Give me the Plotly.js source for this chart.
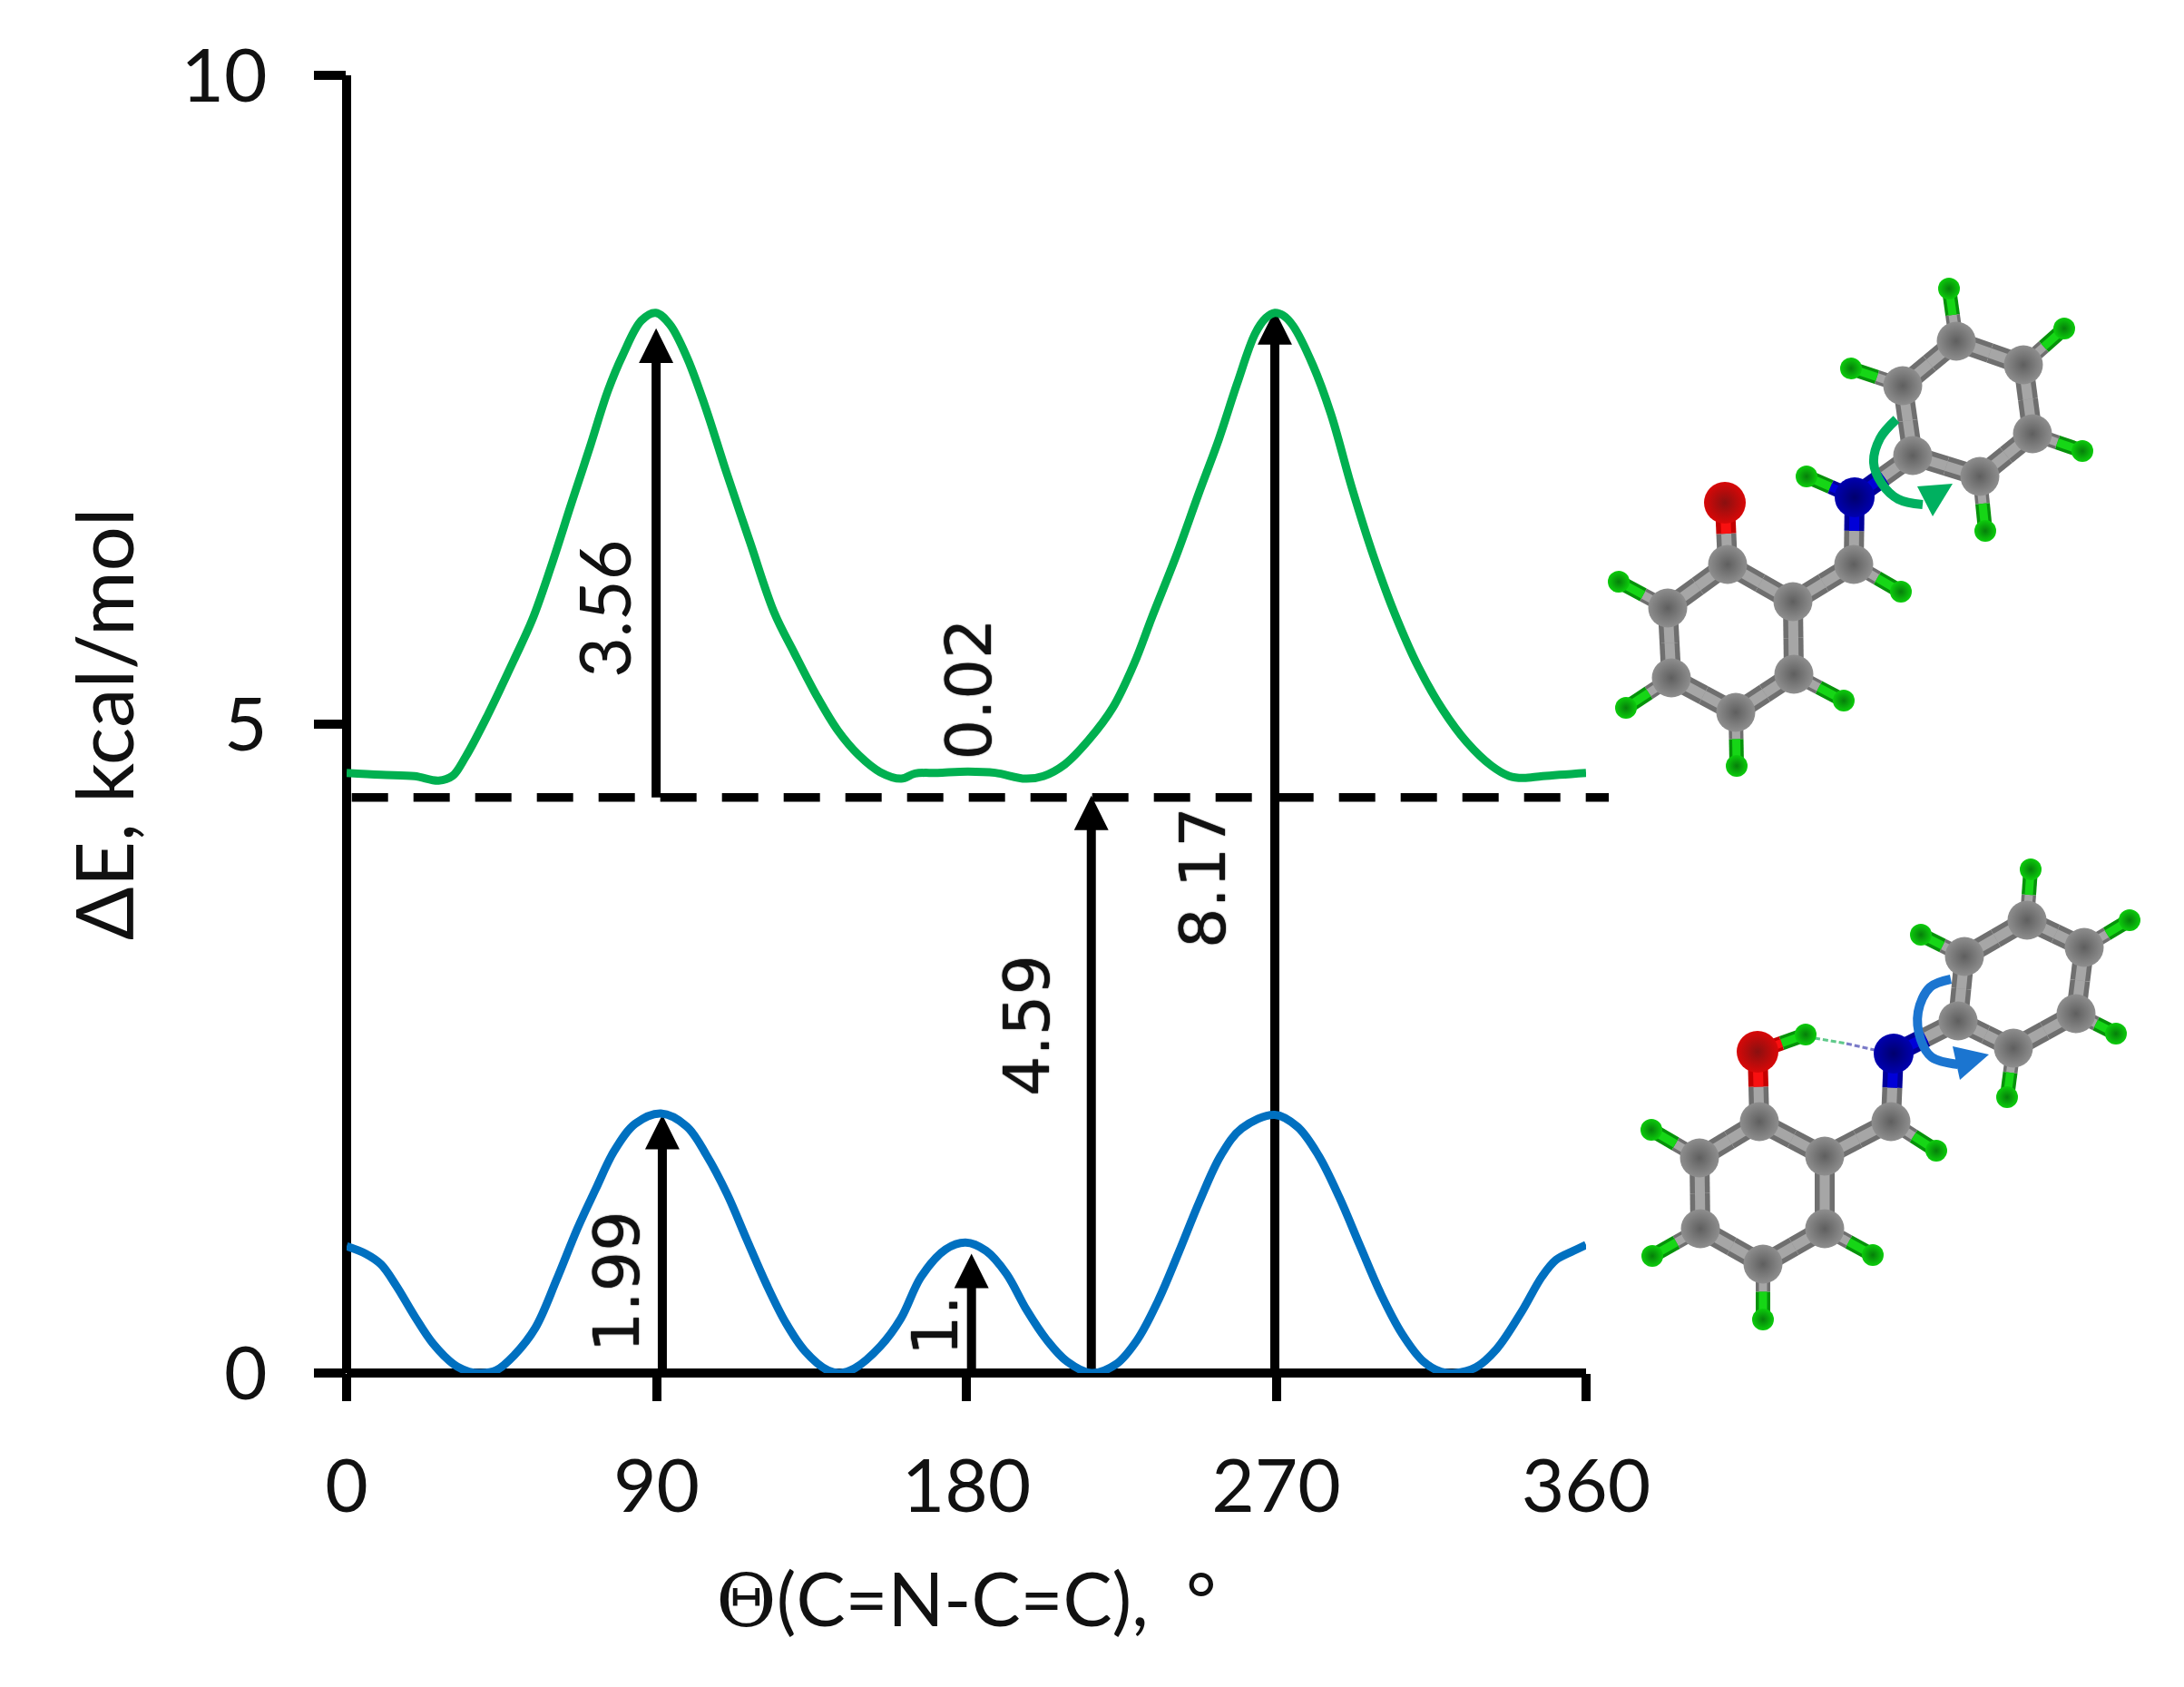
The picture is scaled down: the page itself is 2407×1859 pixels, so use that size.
<!DOCTYPE html>
<html><head><meta charset="utf-8">
<script src="https://cdn.plot.ly/plotly-3.0.1.min.js"></script>
<style>html,body{margin:0;padding:0;background:#fff}#chart{width:2407px;height:1859px}</style>
</head><body><div id="chart"></div>
<script>
// ---------- chart data (angle in degrees, energy in kcal/mol) ----------
const greenAngle = [0,10,19.7,26.7,30.7,34.6,40.8,48.7,54,59.2,65.4,70.6,75.9,80.3,85.6,89.8,93.9,98.8,104,110.2,117.2,124.2,130,136.5,142.7,148.8,155,161.1,165.1,171.7,180.5,188.4,197.2,202.4,208.6,215.6,222.6,228.8,234,241,247.4,253.4,258.6,263.9,267,269.6,272,274.9,280.6,285.9,292,298.2,304.3,311.3,318.4,325.4,332.5,337.7,341.7,347.4,360];
const greenEnergy = [4.625,4.61,4.6,4.565,4.6,4.75,5.06,5.5,5.81,6.2,6.71,7.13,7.57,7.85,8.11,8.17,8.08,7.83,7.46,6.95,6.4,5.86,5.55,5.22,4.95,4.76,4.63,4.58,4.62,4.625,4.635,4.625,4.58,4.6,4.69,4.88,5.13,5.47,5.83,6.3,6.77,7.2,7.62,8.01,8.13,8.17,8.15,8.07,7.77,7.39,6.82,6.3,5.86,5.44,5.11,4.86,4.68,4.6,4.585,4.6,4.625];
const blueAngle = [0,5.6,10,14.4,19.7,25,31.1,35.5,39,43.4,48.7,54.8,61,67.1,72.4,77.7,83.8,91.3,98.8,104.5,110.5,116.2,122,127.5,133.1,139.8,143.3,147.5,155.1,161,166.9,174,179.8,185.7,191.6,197.5,203.4,209.2,216.3,223.5,229.6,235.7,241.7,247.8,253.9,260,269.6,276.2,282.3,288.4,294.4,300.5,306.6,312.7,317.8,321.9,328,334,341.1,347.2,351.3,356.4,360];
const blueEnergy = [0.977,0.918,0.837,0.673,0.44,0.23,0.068,0.01,0,0.02,0.138,0.347,0.72,1.117,1.42,1.71,1.92,2,1.9,1.68,1.38,1.03,0.68,0.39,0.17,0.02,0,0.035,0.208,0.42,0.743,0.953,1.005,0.942,0.767,0.487,0.254,0.09,0,0.068,0.254,0.557,0.93,1.327,1.676,1.886,1.99,1.897,1.676,1.35,0.977,0.604,0.3,0.09,0.01,0,0.044,0.184,0.464,0.743,0.872,0.942,0.988];
const dashAngle = [1.5,366.6];
const dashEnergy = [4.436,4.436];
const arrowAngle = [89.9,91.7,181.5,216.3,269.6];
const arrowStart = [4.436,0,0,0,0];
const arrowTip = [8.05,1.99,0.92,4.45,8.19];
const labelText = ['3.56','1.99','1.','0.02','4.59','8.17'];
const labelAngle = [74.6,78.6,171,180.8,197.7,248.6];
const labelEnergy = [5.89,0.707,0.37,5.27,2.68,3.82];
const labelFont = ['Lato','DejaVu Sans','DejaVu Sans','DejaVu Sans','DejaVu Sans','DejaVu Sans'];
const xTicks = [0,90,180,270,360];
const yTicks = [0,5,10];
const xTitle = '<span style="font-family:\'DejaVu Serif\'">Θ</span>(C=N-C=C),  °';
const yTitle = 'ΔE, kcal/mol';

// ---------- molecule sketches, read as positions in page pixels ----------
// atom order: ring A C1..C6, C7, N, O, ring B C8..C13, then hydrogens
const mol1X = [1904,1976,1977,1913,1842,1838,2043,2044,1901,2108,2097,2156,2230,2240,2182,1784,1792,1914,2032,2095,1991,2040,2148,2275,2295,2188];
const mol1Y = [622,663,743,785,747,670,622,548,554,502,425,376,402,478,525,641,780,844,772,652,525,406,318,362,497,585];
const mol2X = [1939,2011,2011,1943,1874,1873,2084,2087,1937,2158,2165,2234,2297,2288,2219,1820,1821,1943,2064,2134,1990,2117,2238,2347,2332,2212];
const mol2Y = [1236,1274,1354,1393,1354,1276,1236,1161,1159,1125,1054,1014,1044,1117,1155,1245,1384,1454,1383,1268,1140,1030,958,1014,1139,1209];
const molKinds = ['C','C','C','C','C','C','C','N','O','C','C','C','C','C','C','H','H','H','H','H','H','H','H','H','H','H'];
const molBonds = [[0,1],[1,2],[2,3],[3,4],[4,5],[5,0],[1,6],[6,7],[0,8],[7,9],[9,10],[10,11],[11,12],[12,13],[13,14],[14,9],[5,15],[4,16],[3,17],[2,18],[6,19],[7,20],[10,21],[11,22],[12,23],[13,24],[14,25]];
const hBondGreenX = [2000,2035], hBondGreenY = [1144,1150];
const hBondBlueX = [2035,2066], hBondBlueY = [1150,1157];
const arcGreenX = [2090,2072,2065,2074,2092,2119];
const arcGreenY = [462,483,510,533,550,556];
const headGreenX = [2152,2113,2130,2152];
const headGreenY = [533,536,569,533];
const arcBlueX = [2150,2127,2114,2117,2129,2158];
const arcBlueY = [1079,1088,1115,1146,1165,1173];
const headBlueX = [2192,2152,2160,2192];
const headBlueY = [1162,1153,1190,1162];

const GREEN='#00B050', BLUE='#0070C0', ACCENT_GREEN='#00B060', ACCENT_BLUE='#1B75D0';
const traces = [];
const cfg = {mode:'lines', hoverinfo:'skip', showlegend:false, cliponaxis:false};

// dashed reference line (same scale as the main axes, wider domain so it runs past 360)
traces.push({...cfg, xaxis:'x3', yaxis:'y3', x:dashAngle, y:dashEnergy, line:{color:'#000',width:9.5,dash:'40px,28px'}});

// arrows: shaft + triangular head in data units
const headHalf = 5.0, headLen = 0.266;
arrowAngle.forEach((a,i)=>{
  traces.push({...cfg, x:[a,a], y:[arrowStart[i],arrowTip[i]-headLen+0.02], line:{color:'#000',width:10}});
  traces.push({...cfg, x:[a-headHalf,a,a+headHalf,a-headHalf],
    y:[arrowTip[i]-headLen,arrowTip[i],arrowTip[i]-headLen,arrowTip[i]-headLen],
    fill:'toself', fillcolor:'#000', line:{color:'#000',width:0}});
});

// energy curves
traces.push({...cfg, name:'open', x:greenAngle, y:greenEnergy, line:{color:GREEN,width:9,shape:'spline',smoothing:1}});
traces.push({...cfg, name:'H-bonded', x:blueAngle, y:blueEnergy, line:{color:BLUE,width:9,shape:'spline',smoothing:1}});

// molecules on a page-wide overlay axis pair
const bondCol = {C:['#6f6f6f','#a6a6a6'],H:['#06920a','#16d616'],N:['#00009a','#0000d8'],O:['#c40000','#f81010']};
const atomCol = {C:['#8e8e8e','#5f5f5f'],H:['#0ccc0c','#067f0a'],N:['#0000b0','#00006e'],O:['#d80808','#8a1010']};
const atomSize = {C:43,H:24,N:44,O:46};
const ov = {xaxis:'x2',yaxis:'y2'};
function drawMol(X,Y,kinds,bonds){
  const bucket = {};
  bonds.forEach(([a,b])=>{
    const w = (kinds[a]==='H'||kinds[b]==='H') ? 'thin':'thick';
    const mx=(X[a]+X[b])/2, my=(Y[a]+Y[b])/2;
    [[a,kinds[a]],[b,kinds[b]]].forEach(([n,k])=>{
      const key=k+'|'+w; (bucket[key]=bucket[key]||{x:[],y:[]});
      bucket[key].x.push(X[n],mx,null); bucket[key].y.push(Y[n],my,null);
    });
  });
  Object.entries(bucket).forEach(([key,s])=>{
    const [k,w]=key.split('|'); const W = w==='thick'?[22,11]:[16,9];
    traces.push({...cfg,...ov,x:s.x,y:s.y,line:{color:bondCol[k][0],width:W[0]}});
    traces.push({...cfg,...ov,x:s.x,y:s.y,line:{color:bondCol[k][1],width:W[1]}});
  });
  ['C','N','O','H'].forEach(k=>{
    const idx = kinds.map((q,i)=>q===k?i:-1).filter(i=>i>=0);
    traces.push({...ov,mode:'markers',hoverinfo:'skip',showlegend:false,cliponaxis:false,
      x:idx.map(i=>X[i]),y:idx.map(i=>Y[i]),
      marker:{size:atomSize[k],color:atomCol[k][0],line:{width:0},gradient:{type:'radial',color:atomCol[k][1]}}});
  });
}
drawMol(mol1X,mol1Y,molKinds,molBonds);
// second molecule: the hydrogen on N moves to the oxygen (enol form)
const m2Bonds = molBonds.map(b=>b[1]===20?[8,20]:b);
traces.push({...cfg,...ov,x:hBondGreenX,y:hBondGreenY,line:{color:'#5fc98a',width:3,dash:'6px,3px'}});
traces.push({...cfg,...ov,x:hBondBlueX,y:hBondBlueY,line:{color:'#7a7ac8',width:3,dash:'6px,3px'}});
drawMol(mol2X,mol2Y,molKinds,m2Bonds);

// rotation arrows
traces.push({...cfg,...ov,x:arcGreenX,y:arcGreenY,line:{color:ACCENT_GREEN,width:10,shape:'spline'}});
traces.push({...cfg,...ov,x:headGreenX,y:headGreenY,fill:'toself',fillcolor:ACCENT_GREEN,line:{color:ACCENT_GREEN,width:0}});
traces.push({...cfg,...ov,x:arcBlueX,y:arcBlueY,line:{color:ACCENT_BLUE,width:10,shape:'spline'}});
traces.push({...cfg,...ov,x:headBlueX,y:headBlueY,fill:'toself',fillcolor:ACCENT_BLUE,line:{color:ACCENT_BLUE,width:0}});

const W=2407,H=1859;
const plotYDomain=[1-1513/H,1-83/H];
const layout = {
  width:W,height:H,showlegend:false,
  paper_bgcolor:'#fff',plot_bgcolor:'rgba(0,0,0,0)',
  margin:{l:0,r:0,t:0,b:0,pad:0},
  font:{family:'Lato',color:'#111'},
  xaxis:{domain:[382/W,1748/W],range:[0,360],anchor:'y',tickmode:'array',tickvals:xTicks,ticktext:xTicks.map(String),
    ticks:'outside',ticklen:30,tickwidth:10,tickcolor:'#000',showgrid:false,showline:false,
    zeroline:true,zerolinecolor:'#000',zerolinewidth:10,ticklabelstandoff:24,
    tickfont:{family:'Lato',size:82,color:'#111'},
    title:{text:xTitle,font:{family:'Lato',size:81,color:'#111'},standoff:52},automargin:false},
  yaxis:{domain:plotYDomain,range:[0,10],anchor:'x',tickmode:'array',tickvals:yTicks,ticktext:yTicks.map(String),
    ticks:'outside',ticklen:35,tickwidth:10,tickcolor:'#000',showgrid:false,showline:false,
    zeroline:true,zerolinecolor:'#000',zerolinewidth:10,ticklabelstandoff:35,
    tickfont:{family:'Lato',size:82,color:'#111'},
    title:{text:yTitle,font:{family:'Lato',size:87,color:'#111'},standoff:23},automargin:false},
  xaxis2:{domain:[0,1],range:[0,W],anchor:'y2',visible:false,fixedrange:true},
  yaxis2:{domain:[0,1],range:[H,0],anchor:'x2',visible:false,fixedrange:true},
  xaxis3:{domain:[382/W,1775/W],range:[0,(1775-382)/(1366/360)],anchor:'y3',visible:false,fixedrange:true},
  yaxis3:{domain:plotYDomain,range:[0,10],anchor:'x3',visible:false,fixedrange:true},
  annotations:labelText.map((t,i)=>({xref:'x',yref:'y',x:labelAngle[i],y:labelEnergy[i],text:t,textangle:-90,
    showarrow:false,xanchor:'center',yanchor:'middle',
    font:labelFont[i]==='Lato'?{family:'Lato',size:77,color:'#111'}
      :{family:labelFont[i],size:70,color:'#111',shadow:'0 0 1.5px #000'}}))
};
Plotly.newPlot('chart',traces,layout,{displayModeBar:false,staticPlot:true});
</script></body></html>
